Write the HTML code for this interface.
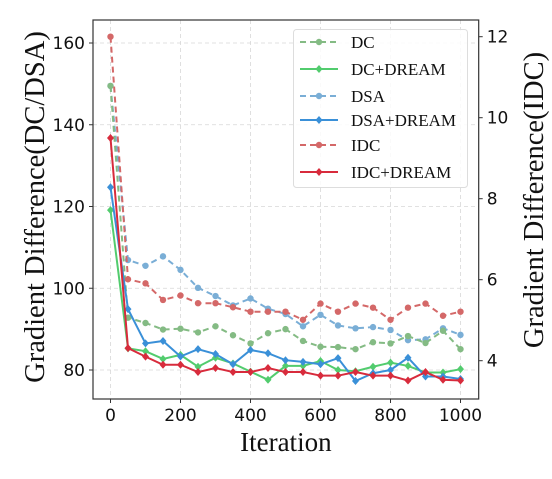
<!DOCTYPE html>
<html><head><meta charset="utf-8"><style>
body{margin:0;background:#fff;}
svg text{font-family:"DejaVu Sans","Liberation Sans",sans-serif;}
.serif{font-family:"Liberation Serif",serif !important;}
</style></head><body>
<svg id="chart" width="552" height="474" xmlns="http://www.w3.org/2000/svg"></svg>
<script>
const iterations=[0,50,100,150,200,250,300,350,400,450,500,550,600,650,700,750,800,850,900,950,1000];
const dcValues=[149.5,92.8,91.5,89.9,90.1,89.2,90.7,88.5,86.5,89,90,87.1,85.7,85.6,85.1,86.8,86.5,88.3,86.6,89.6,85.1];
const dcDreamValues=[119.1,85.3,84.6,82.7,83.7,80.8,83,81.6,79.6,77.6,81,81,82.2,80,79.7,80.8,81.8,81,79.4,79.4,80.2];
const dsaValues=[149.5,106.9,105.5,107.8,104.5,100.1,98.1,95.8,97.5,95,93.7,90.7,93.5,90.9,90.2,90.5,89.8,87.3,87.5,90.2,88.6];
const dsaDreamValues=[124.7,94.9,86.5,87.1,83.3,85.1,83.9,81.4,84.9,84.1,82.4,82,81.4,82.9,77.3,79.2,80,83,78.4,78.4,77.8];
const idcValues=[12.0,6.01,5.91,5.5,5.61,5.42,5.42,5.32,5.21,5.21,5.21,5.01,5.41,5.21,5.41,5.31,5.01,5.31,5.41,5.11,5.21];
const idcDreamValues=[9.5,4.31,4.1,3.9,3.9,3.72,3.82,3.72,3.72,3.82,3.72,3.72,3.63,3.63,3.72,3.63,3.63,3.51,3.72,3.53,3.51];
const xTicks=[0,200,400,600,800,1000];
const leftTicks=[80,100,120,140,160];
const rightTicks=[4,6,8,10,12];

const NS="http://www.w3.org/2000/svg";
const svg=document.getElementById('chart');
const L=93,R=478.7,T=20,B=399;
const xs=v=>110.5+v*0.35;
const yl=v=>370-(v-80)*4.0875;
const yr=v=>360.7-(v-4)*40.5;
function mk(tag,attrs,parent){const e=document.createElementNS(NS,tag);for(const k in attrs)e.setAttribute(k,attrs[k]);(parent||svg).appendChild(e);return e;}

const grid=mk('g',{});


xTicks.forEach(t=>{mk('line',{x1:xs(t),x2:xs(t),y1:T,y2:B,stroke:'#d8d8d8','stroke-dasharray':'4,3','stroke-width':0.8},grid);});
leftTicks.forEach(t=>{mk('line',{x1:L,x2:R,y1:yl(t),y2:yl(t),stroke:'#d8d8d8','stroke-dasharray':'4,3','stroke-width':0.8},grid);});

const series=[
 {name:'DSA',vals:dsaValues,axis:yl,color:'#7aaed6',dash:'6,4',marker:'circle'},
 {name:'DC',vals:dcValues,axis:yl,color:'#84bb84',dash:'6,4',marker:'circle'},
 {name:'DC+DREAM',vals:dcDreamValues,axis:yl,color:'#52cc6e',dash:'',marker:'diamond'},
 {name:'DSA+DREAM',vals:dsaDreamValues,axis:yl,color:'#3a90d8',dash:'',marker:'diamond'},
 {name:'IDC',vals:idcValues,axis:yr,color:'#d46868',dash:'6,4',marker:'circle'},
 {name:'IDC+DREAM',vals:idcDreamValues,axis:yr,color:'#d82b3c',dash:'',marker:'diamond'}
];
const legendOrder=['DC','DC+DREAM','DSA','DSA+DREAM','IDC','IDC+DREAM'];
function marker(g,type,x,y,c){
 if(type==='circle')return mk('circle',{cx:x,cy:y,r:3.2,fill:c},g);
 return mk('polygon',{points:`${x},${y-4} ${x+3.5},${y} ${x},${y+4} ${x-3.5},${y}`,fill:c},g);
}
series.forEach(s=>{
 const g=mk('g',{});
 
 
 const pts=s.vals.map((v,i)=>xs(iterations[i])+','+s.axis(v)).join(' ');
 mk('polyline',{points:pts,fill:'none',stroke:s.color,'stroke-width':2,'stroke-dasharray':s.dash},g);
 s.vals.forEach((v,i)=>{
  const m=marker(g,s.marker,xs(iterations[i]),s.axis(v),s.color);
  
  
 });
});

const frame=mk('rect',{x:L,y:T,width:R-L,height:B-T,fill:'none',stroke:'#333','stroke-width':1.2});



xTicks.forEach(t=>{
 mk('line',{x1:xs(t),x2:xs(t),y1:B,y2:B+4,stroke:'#333'});
 const tx=mk('text',{x:xs(t),y:B+22,'text-anchor':'middle','font-size':17,fill:'#111'});
 tx.textContent=t;
 
 
});
leftTicks.forEach(t=>{
 mk('line',{x1:L-4,x2:L,y1:yl(t),y2:yl(t),stroke:'#333'});
 const tx=mk('text',{x:L-8,y:yl(t)+6,'text-anchor':'end','font-size':17,fill:'#111'});
 tx.textContent=t;
 
 
});
rightTicks.forEach(t=>{
 mk('line',{x1:R,x2:R+4,y1:yr(t),y2:yr(t),stroke:'#333'});
 const tx=mk('text',{x:R+8,y:yr(t)+6,'text-anchor':'start','font-size':17,fill:'#111'});
 tx.textContent=t;
 
 
});
const xt=mk('text',{x:(L+R)/2,y:451,'text-anchor':'middle','font-size':27,fill:'#111',class:'serif'});
xt.textContent='Iteration';


const ylt=mk('text',{x:0,y:0,'text-anchor':'middle','font-size':28.5,fill:'#111',class:'serif',transform:`translate(44,207) rotate(-90)`});
ylt.textContent='Gradient Difference(DC/DSA)';


const yrt=mk('text',{x:0,y:0,'text-anchor':'middle','font-size':28.5,fill:'#111',class:'serif',transform:`translate(543,200) rotate(-90)`});
yrt.textContent='Gradient Difference(IDC)';



const lg=mk('g',{});


mk('rect',{x:293.5,y:29.5,width:174,height:158,rx:3,fill:'#fff','fill-opacity':0.85,stroke:'#ddd'},lg);
const ly=[42,69,96,120,145,172];
legendOrder.forEach((n,i)=>{
 const s=series.find(q=>q.name===n);
 const e=mk('g',{},lg);
 
 
 mk('line',{x1:300,x2:338,y1:ly[i],y2:ly[i],stroke:s.color,'stroke-width':2,'stroke-dasharray':s.dash},e);
 marker(e,s.marker,319,ly[i],s.color);
 const t=mk('text',{x:351,y:ly[i]+6,'font-size':17,fill:'#111',class:'serif'},e);
 t.textContent=s.name;
});
</script>
</body></html>
